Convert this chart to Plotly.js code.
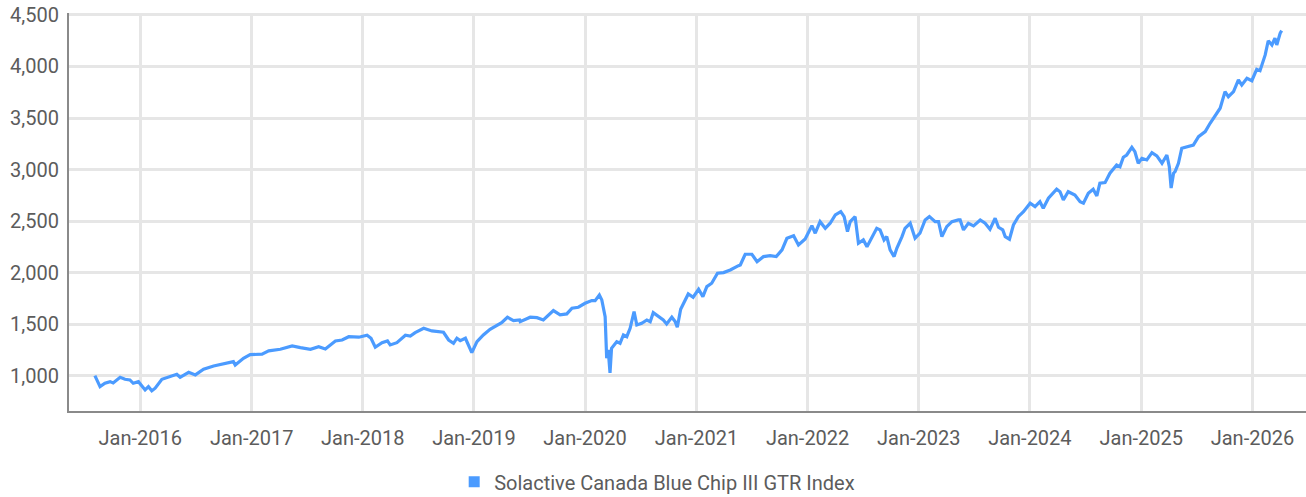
<!DOCTYPE html>
<html>
<head>
<meta charset="utf-8">
<script src="https://cdn.plot.ly/plotly-3.0.1.min.js"></script>
<style>
html,body{margin:0;padding:0;background:#fff;}
#chart{width:1306px;height:497px;}
</style>
</head>
<body>
<div id="chart"></div>
<script>
const seriesName = "Solactive Canada Blue Chip III GTR Index";

const dates = [
"2015-08-05","2015-08-22","2015-09-07","2015-09-24","2015-10-04","2015-10-27","2015-11-12","2015-11-28","2015-12-09","2015-12-26",
"2016-01-17","2016-01-28","2016-02-08","2016-02-19","2016-03-12","2016-04-03","2016-04-30","2016-05-11","2016-06-08","2016-06-30",
"2016-07-27","2016-08-29","2016-10-01","2016-11-02","2016-11-08","2016-12-05","2016-12-27",
"2017-02-04","2017-02-26","2017-04-05","2017-05-14","2017-06-05","2017-06-10","2017-07-13","2017-08-09","2017-08-31","2017-10-03",
"2017-10-25","2017-11-16","2017-12-19",
"2018-01-15","2018-01-28","2018-02-11","2018-03-05","2018-03-23","2018-04-01","2018-04-23","2018-05-21","2018-06-06","2018-06-22",
"2018-07-20","2018-08-16","2018-09-02","2018-09-23","2018-10-10","2018-10-26","2018-11-06","2018-11-17","2018-12-04","2018-12-12","2018-12-25",
"2019-01-11","2019-02-01","2019-02-23","2019-03-17","2019-04-02","2019-04-21","2019-05-11","2019-05-31","2019-06-02","2019-07-05",
"2019-07-27","2019-08-17","2019-09-19","2019-10-11","2019-11-02","2019-11-19","2019-12-10",
"2020-01-01","2020-01-23","2020-02-03","2020-02-17","2020-02-25","2020-03-07","2020-03-12","2020-03-17","2020-03-23","2020-03-28",
"2020-04-14","2020-04-25","2020-05-06","2020-05-17","2020-05-28","2020-06-10","2020-06-19","2020-07-05","2020-07-22","2020-08-02",
"2020-08-12","2020-08-29","2020-09-14","2020-09-25","2020-10-12","2020-10-23","2020-10-30","2020-11-10","2020-11-24","2020-12-05","2020-12-21",
"2021-01-08","2021-01-22","2021-02-04","2021-02-20","2021-03-11","2021-03-31","2021-04-22","2021-05-19","2021-05-25","2021-06-10",
"2021-07-02","2021-07-19","2021-08-09","2021-08-31","2021-09-20","2021-10-09","2021-10-25","2021-11-16","2021-12-02","2021-12-24",
"2022-01-15","2022-01-26","2022-02-11","2022-02-28","2022-03-16","2022-04-02","2022-04-20","2022-05-01","2022-05-12","2022-05-21",
"2022-06-06","2022-06-17","2022-07-03","2022-07-15","2022-07-31","2022-08-16","2022-08-27","2022-09-09","2022-09-18","2022-09-29",
"2022-10-12","2022-10-21","2022-11-07","2022-11-17","2022-12-04","2022-12-20",
"2023-01-05","2023-01-22","2023-02-05","2023-02-24","2023-03-07","2023-03-18","2023-04-03","2023-04-20","2023-05-11","2023-05-17",
"2023-05-28","2023-06-13","2023-06-30","2023-07-22","2023-08-07","2023-08-23","2023-09-09","2023-09-20","2023-10-04","2023-10-12",
"2023-10-26","2023-11-08","2023-11-24","2023-12-11",
"2024-01-02","2024-01-18","2024-02-03","2024-02-14","2024-03-02","2024-03-29","2024-04-09","2024-04-20","2024-05-06","2024-05-28",
"2024-06-14","2024-06-25","2024-07-11","2024-07-27","2024-08-08","2024-08-18","2024-09-04","2024-09-20","2024-10-12","2024-10-23",
"2024-11-03","2024-11-14","2024-12-01","2024-12-11","2024-12-22",
"2025-01-03","2025-01-19","2025-02-05","2025-02-21","2025-03-10","2025-03-26","2025-04-03","2025-04-09","2025-04-17","2025-04-22",
"2025-05-03","2025-05-14","2025-06-05","2025-06-21","2025-07-08","2025-07-30","2025-08-15","2025-09-01","2025-09-17","2025-10-03",
"2025-10-14","2025-10-31","2025-11-16","2025-11-27","2025-12-14","2025-12-30",
"2026-01-15","2026-01-26","2026-02-12","2026-02-22","2026-03-06","2026-03-16","2026-03-22","2026-04-02","2026-04-07"
];

const values = [
1000,893,926,942,929,984,965,958,926,942,
861,893,854,878,965,984,1014,984,1033,1007,
1062,1094,1114,1136,1104,1169,1204,
1208,1240,1256,1288,1281,1272,1256,1281,1259,1337,
1346,1378,1373,
1392,1363,1276,1320,1337,1298,1320,1392,1385,1417,
1460,1434,1427,1421,1346,1314,1363,1340,1363,1314,1223,
1330,1395,1450,1492,1514,1567,1534,1540,1524,1567,
1563,1540,1631,1589,1599,1654,1664,
1702,1728,1728,1783,1735,1572,1169,1249,1026,1266,
1330,1314,1395,1378,1460,1621,1492,1508,1540,1524,
1611,1579,1540,1502,1567,1524,1470,1644,1735,1793,1761,
1838,1767,1864,1897,1994,2000,2026,2067,2074,2178,
2178,2106,2155,2164,2155,2220,2333,2358,2268,2326,
2455,2382,2494,2430,2479,2559,2591,2543,2397,2494,
2543,2285,2317,2252,2339,2430,2414,2317,2349,2220,
2155,2236,2349,2430,2479,2333,
2382,2511,2543,2494,2494,2349,2446,2494,2511,2511,
2414,2479,2453,2511,2479,2421,2527,2440,2414,2349,
2324,2462,2543,2591,
2673,2640,2688,2624,2721,2809,2785,2705,2785,2753,
2688,2673,2770,2809,2744,2867,2873,2964,3044,3028,
3119,3141,3216,3173,3061,
3109,3093,3164,3132,3061,3141,3028,2820,2964,2979,
3061,3207,3229,3238,3319,3368,3449,3530,3595,3756,
3707,3756,3869,3821,3886,3862,
3973,3959,4112,4250,4209,4274,4209,4322,4348
];

const yTickVals = [1000,1500,2000,2500,3000,3500,4000,4500];
const yTickText = ["1,000","1,500","2,000","2,500","3,000","3,500","4,000","4,500"];
const xTickVals = ["2016-01-01","2017-01-01","2018-01-01","2019-01-01","2020-01-01","2021-01-01","2022-01-01","2023-01-01","2024-01-01","2025-01-01","2026-01-01"];
const xTickText = ["Jan-2016","Jan-2017","Jan-2018","Jan-2019","Jan-2020","Jan-2021","Jan-2022","Jan-2023","Jan-2024","Jan-2025","Jan-2026"];

const lineColor = "#4b9bff";
const textColor = "#5c5c5c";
const fontFam = "Roboto, 'Open Sans', sans-serif";

const traces = [
  {
    x: dates, y: values, type: "scatter", mode: "lines",
    name: seriesName, showlegend: false,
    line: {color: lineColor, width: 3.2},
    hoverinfo: "x+y"
  },
  {
    x: [null], y: [null], type: "scatter", mode: "markers",
    name: seriesName, showlegend: true,
    marker: {symbol: "square", size: 11, color: lineColor}
  }
];

const layout = {
  width: 1306, height: 497,
  margin: {l: 69, r: 0, t: 13, b: 86, autoexpand: false},
  paper_bgcolor: "#ffffff",
  plot_bgcolor: "#ffffff",
  font: {family: fontFam, size: 20, color: textColor},
  showlegend: true,
  legend: {
    orientation: "h", x: 0.4755, xanchor: "center", y: -0.178, yanchor: "middle",
    font: {family: fontFam, size: 20, color: textColor},
    itemwidth: 30
  },
  xaxis: {
    type: "date",
    range: ["2015-05-12", "2026-06-26"],
    tickmode: "array", tickvals: xTickVals, ticktext: xTickText,
    showgrid: true, gridcolor: "#e6e6e6", gridwidth: 3,
    showline: true, linecolor: "#8a8a8a", linewidth: 2,
    ticks: "", ticklabelstandoff: 8,
    zeroline: false, automargin: false,
    tickfont: {family: fontFam, size: 20, color: textColor}
  },
  yaxis: {
    range: [657, 4519],
    tickmode: "array", tickvals: yTickVals, ticktext: yTickText,
    showgrid: true, gridcolor: "#e6e6e6", gridwidth: 3,
    showline: true, linecolor: "#8a8a8a", linewidth: 2,
    ticks: "", ticklabelstandoff: 4,
    zeroline: false, automargin: false,
    tickfont: {family: fontFam, size: 20, color: textColor}
  }
};

Plotly.newPlot("chart", traces, layout, {displayModeBar: false, staticPlot: true});
</script>
</body>
</html>
